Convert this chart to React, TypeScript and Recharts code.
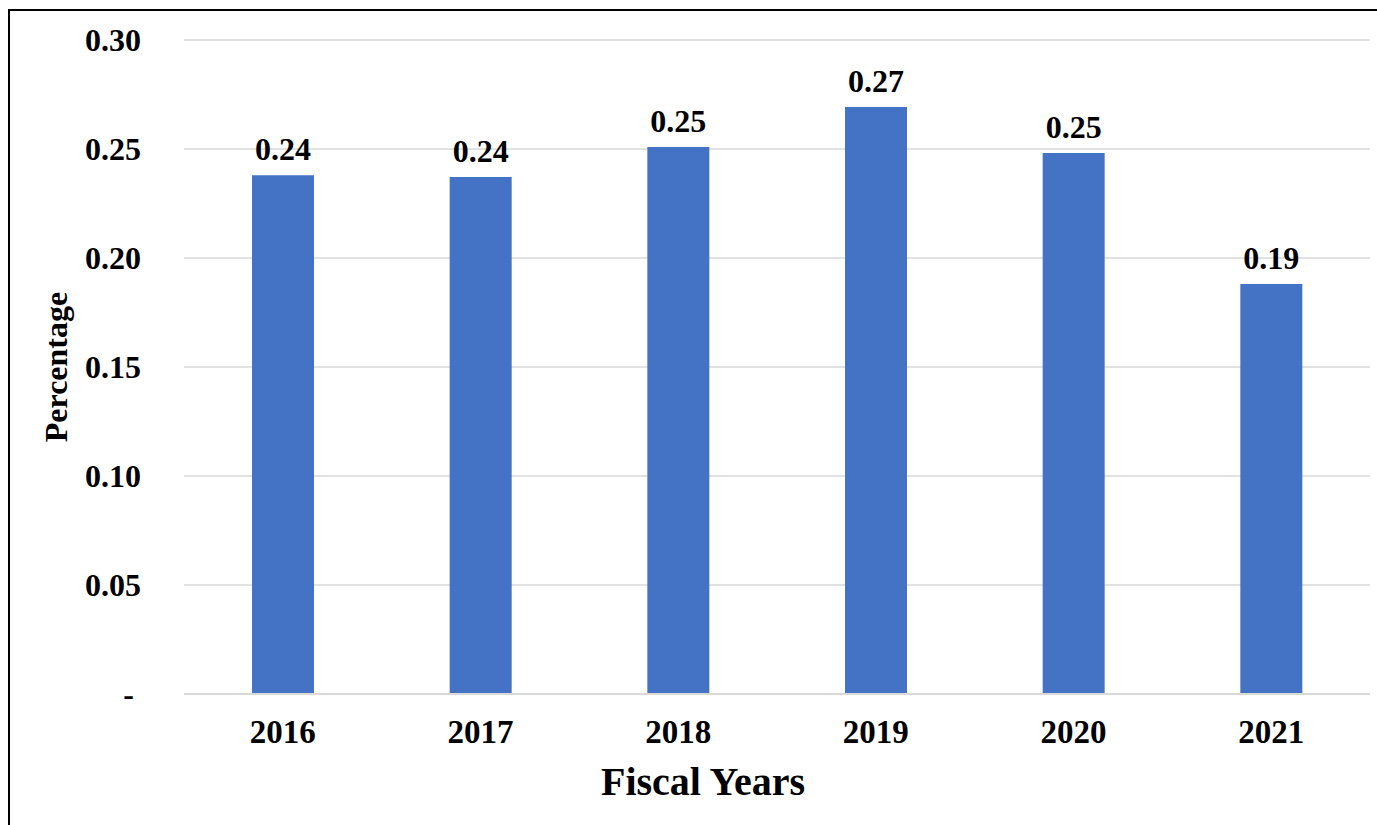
import { Bar, BarChart, CartesianGrid, LabelList, XAxis, YAxis } from "recharts"

const years = ["2016", "2017", "2018", "2019", "2020", "2021"]
const percentages = [0.238, 0.2372, 0.2509, 0.2693, 0.2482, 0.1881]
const yTicks = [0, 0.05, 0.1, 0.15, 0.2, 0.25, 0.3]

const data = years.map((year, i) => ({ year, value: percentages[i] }))

const font = "'Liberation Serif', 'Times New Roman', serif"

function YTick(props: any) {
  const { x, y, payload } = props
  const isZero = payload.value === 0
  return (
    <text
      x={isZero ? x - 7 : x}
      y={y}
      dy="0.355em"
      textAnchor="end"
      fontFamily={font}
      fontWeight="bold"
      fontSize={32}
      fill="#000"
    >
      {isZero ? "-" : payload.value.toFixed(2)}
    </text>
  )
}

export default function App() {
  return (
    <div>
      <div
        style={{
          position: "absolute",
          left: 8,
          top: 9,
          width: 1400,
          height: 850,
          borderTop: "2px solid #000",
          borderLeft: "2px solid #000",
          boxSizing: "border-box",
        }}
      />
      <div style={{ position: "absolute", left: 0, top: 0 }}>
        <BarChart
          width={1377}
          height={825}
          data={data}
          margin={{ top: 40, right: 7, left: 0, bottom: 0 }}
        >
          <CartesianGrid vertical={false} stroke="#d9d9d9" strokeWidth={1.3} />
          <XAxis
            dataKey="year"
            height={131}
            tickLine={false}
            axisLine={{ stroke: "#d9d9d9", strokeWidth: 2 }}
            tick={{ fontFamily: font, fontWeight: "bold", fontSize: 33, fill: "#000" }}
            tickMargin={20}
            label={{
              value: "Fiscal Years",
              content: ({ viewBox }: any) => (
                <text
                  x={viewBox.x + viewBox.width / 2 - 74}
                  y={795}
                  textAnchor="middle"
                  fontFamily={font}
                  fontWeight="bold"
                  fontSize={40}
                  fill="#000"
                >
                  Fiscal Years
                </text>
              ),
            }}
          />
          <YAxis
            width={184}
            domain={[0, 0.3]}
            ticks={yTicks}
            tickLine={false}
            axisLine={false}
            tickMargin={37}
            tick={<YTick />}
            label={{
              value: "Percentage",
              content: ({ viewBox }: any) => {
                const cy = viewBox.y + viewBox.height / 2
                return (
                  <text
                    x={67}
                    y={cy}
                    transform={`rotate(-90, 67, ${cy})`}
                    textAnchor="middle"
                    fontFamily={font}
                    fontWeight="bold"
                    fontSize={32}
                    fill="#000"
                  >
                    Percentage
                  </text>
                )
              },
            }}
          />
          <Bar dataKey="value" fill="#4472C4" barSize={62} isAnimationActive={false}>
            <LabelList
              dataKey="value"
              position="top"
              offset={15}
              formatter={(v: any) => Number(v).toFixed(2)}
              style={{ fontFamily: font, fontWeight: "bold", fontSize: 32, fill: "#000" }}
            />
          </Bar>
        </BarChart>
      </div>
    </div>
  )
}
